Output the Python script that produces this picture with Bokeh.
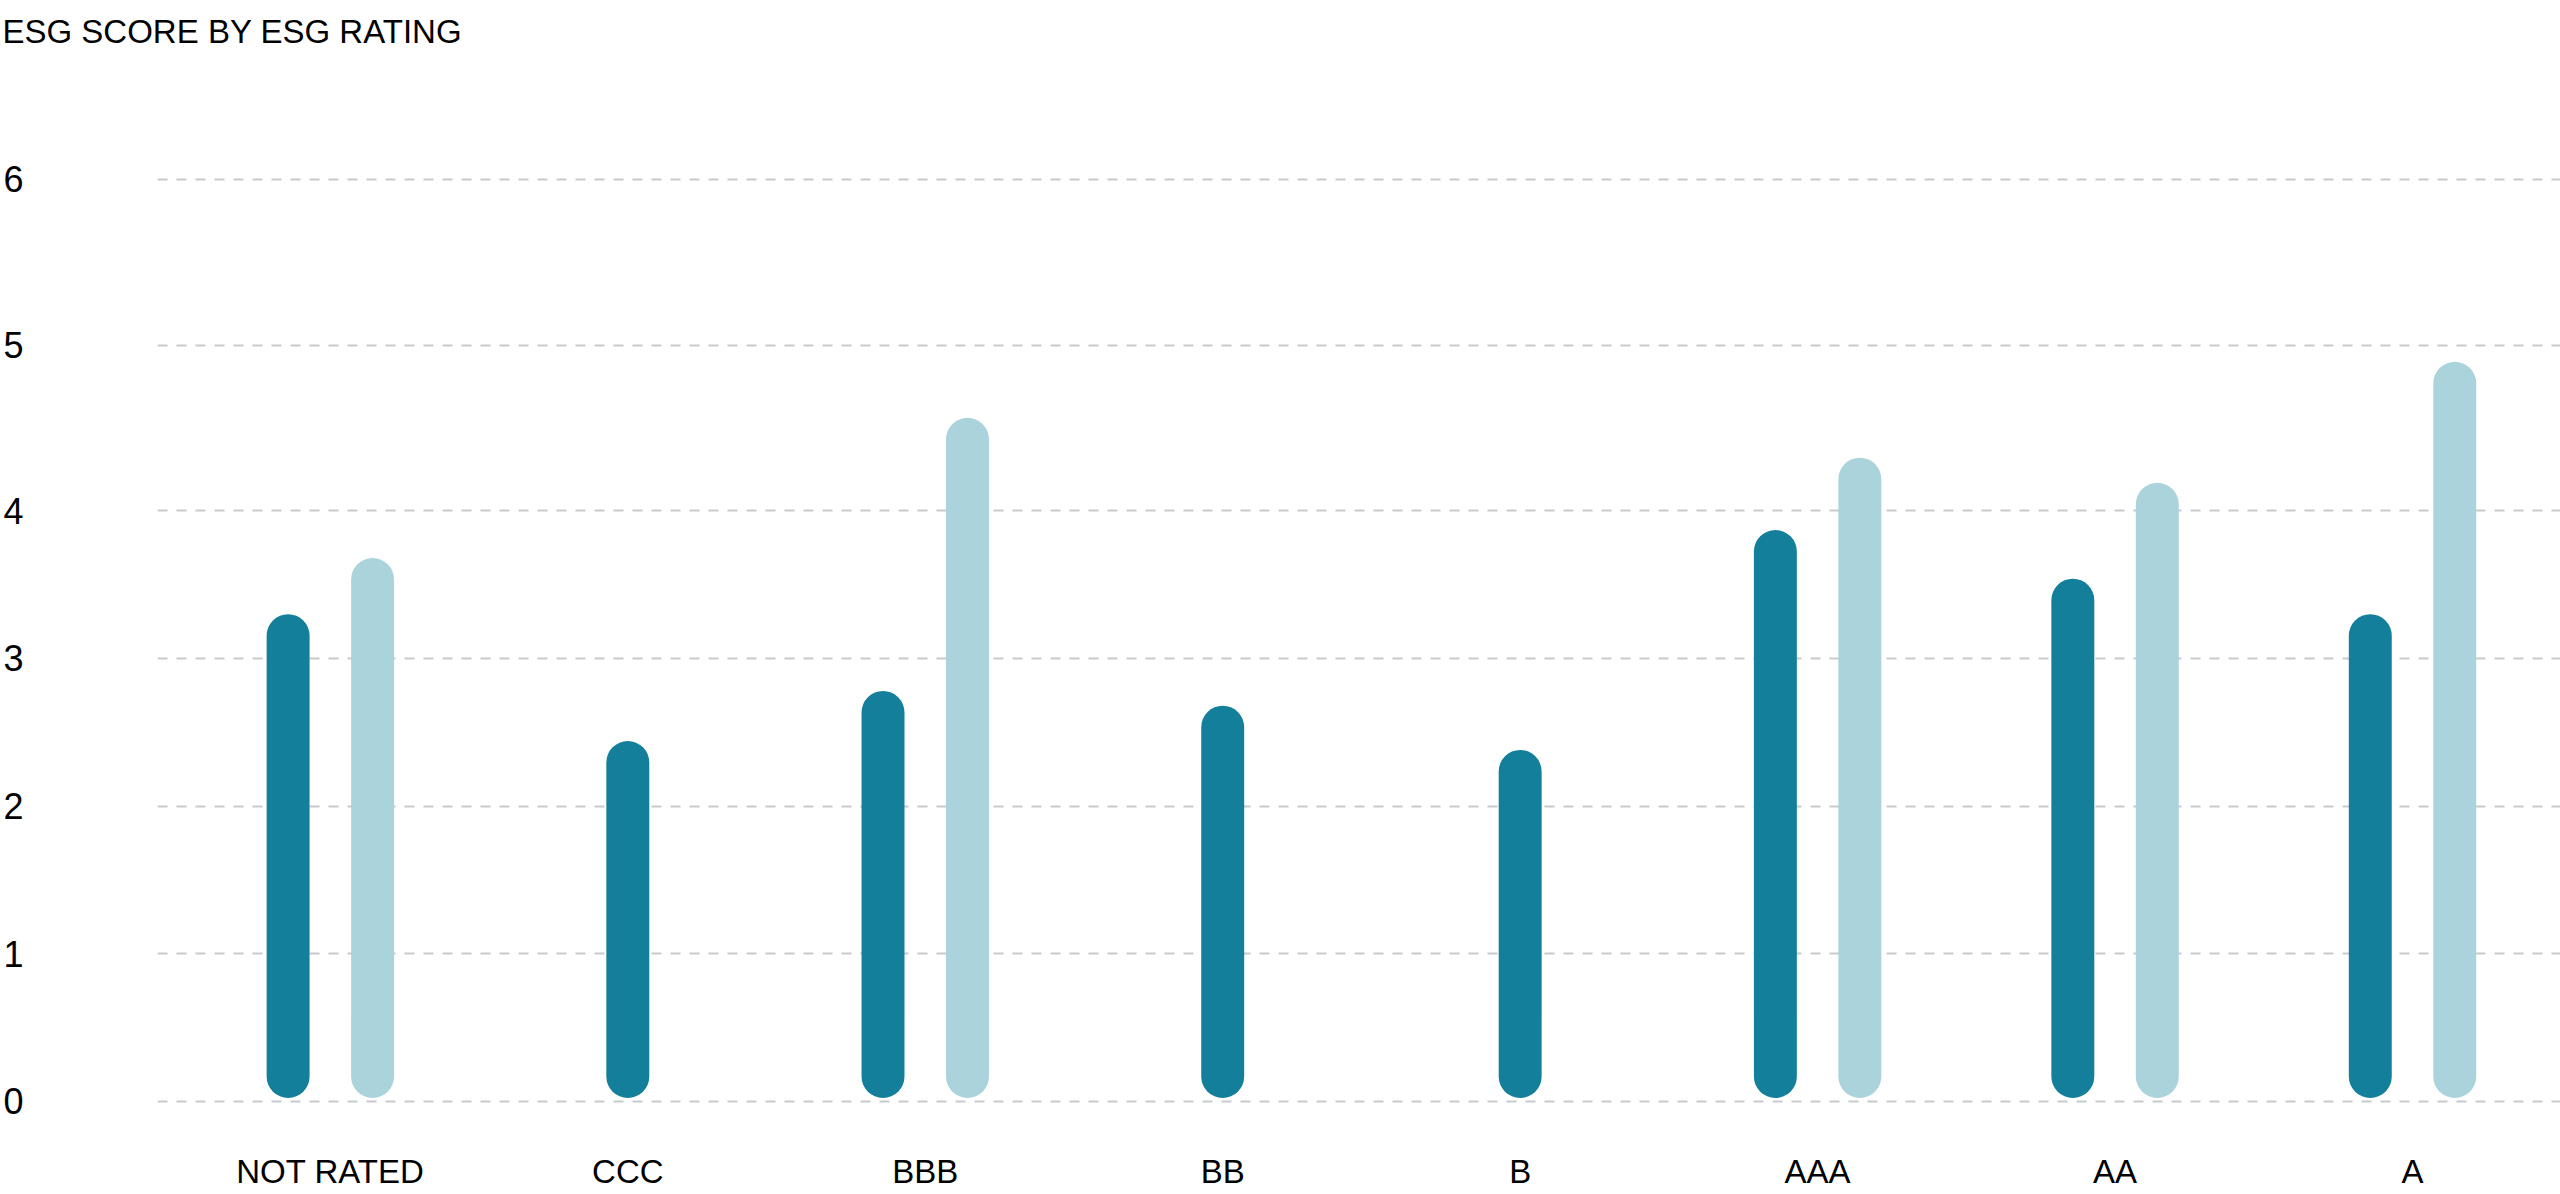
from bokeh.plotting import figure
from bokeh.models import Range1d, FixedTicker, ColumnDataSource
from bokeh.embed import file_html
from bokeh.resources import INLINE

# ---- data ----
categories = ["NOT RATED", "CCC", "BBB", "BB", "B", "AAA", "AA", "A"]
score_series_1 = [3.30, 2.44, 2.78, 2.68, 2.38, 3.87, 3.54, 3.30]
score_series_2 = [3.68, None, 4.63, None, None, 4.36, 4.19, 5.01]
y_tick_labels = ["0", "1", "2", "3", "4", "5", "6"]
title_text = "ESG SCORE BY ESG RATING"

# ---- layout / style ----
DARK = "#137f9b"
LIGHT = "#abd3dc"
GRID = "#c8cacd"
FONT = "Liberation Sans"
W, H = 2560, 1194
LEFT, BOTTOM = 155, 80
BAR_W = 0.1444
OFFSET = 0.142
# y positions where the reference draws its labelled gridlines
y_tick_pos = [0, 1, 2, 3, 4, 5.122, 6.245]

idx = list(range(len(categories)))

x1, t1, x2, t2 = [], [], [], []
for i, (a, b) in enumerate(zip(score_series_1, score_series_2)):
    if b is None:
        x1.append(i)
        t1.append(a)
    else:
        x1.append(i - OFFSET)
        t1.append(a)
        x2.append(i + OFFSET)
        t2.append(b)

src1 = ColumnDataSource(dict(x=x1, top=t1))
src2 = ColumnDataSource(dict(x=x2, top=t2))

p = figure(
    width=W, height=H,
    x_range=Range1d(-0.5811, 7.4975),
    y_range=Range1d(-0.0901, 7.0512),
    output_backend="svg", toolbar_location=None,
    min_border_left=LEFT, min_border_right=0,
    min_border_top=0, min_border_bottom=BOTTOM,
    title=title_text,
)
p.outline_line_color = None
p.background_fill_color = "white"
p.border_fill_color = "white"

p.title.text_font = FONT
p.title.text_font_size = "33px"
p.title.text_font_style = "normal"
p.title.text_color = "#000000"
p.title.align = "left"
p.title.vertical_align = "bottom"
p.title.offset = -LEFT
p.title.standoff = 21

p.vbar(x="x", top="top", bottom=0.022, width=BAR_W, source=src1,
       fill_color=DARK, line_color=None, border_radius=22)
p.vbar(x="x", top="top", bottom=0.022, width=BAR_W, source=src2,
       fill_color=LIGHT, line_color=None, border_radius=22)

# x axis
p.xaxis.ticker = FixedTicker(ticks=idx)
p.xaxis.major_label_overrides = {i: c for i, c in zip(idx, categories)}
p.xaxis.axis_line_color = None
p.xaxis.major_tick_line_color = None
p.xaxis.minor_tick_line_color = None
p.xaxis.major_tick_out = 0
p.xaxis.major_label_standoff = 38
p.xaxis.major_label_text_font = FONT
p.xaxis.major_label_text_font_size = "33px"
p.xaxis.major_label_text_color = "#000000"
p.xgrid.grid_line_color = None

# y axis
p.yaxis.ticker = FixedTicker(ticks=y_tick_pos)
p.yaxis.major_label_overrides = {t: l for t, l in zip(y_tick_pos, y_tick_labels)}
p.yaxis.axis_line_color = None
p.yaxis.major_tick_line_color = None
p.yaxis.minor_tick_line_color = None
p.yaxis.major_tick_out = 0
p.yaxis.major_label_standoff = 134
p.yaxis.major_label_text_font = FONT
p.yaxis.major_label_text_font_size = "36px"
p.yaxis.major_label_text_color = "#000000"
p.ygrid.ticker = FixedTicker(ticks=y_tick_pos)
p.ygrid.grid_line_color = GRID
p.ygrid.grid_line_width = 2
p.ygrid.grid_line_dash = "10 9"

open("out.html", "w").write(file_html(p, INLINE))
